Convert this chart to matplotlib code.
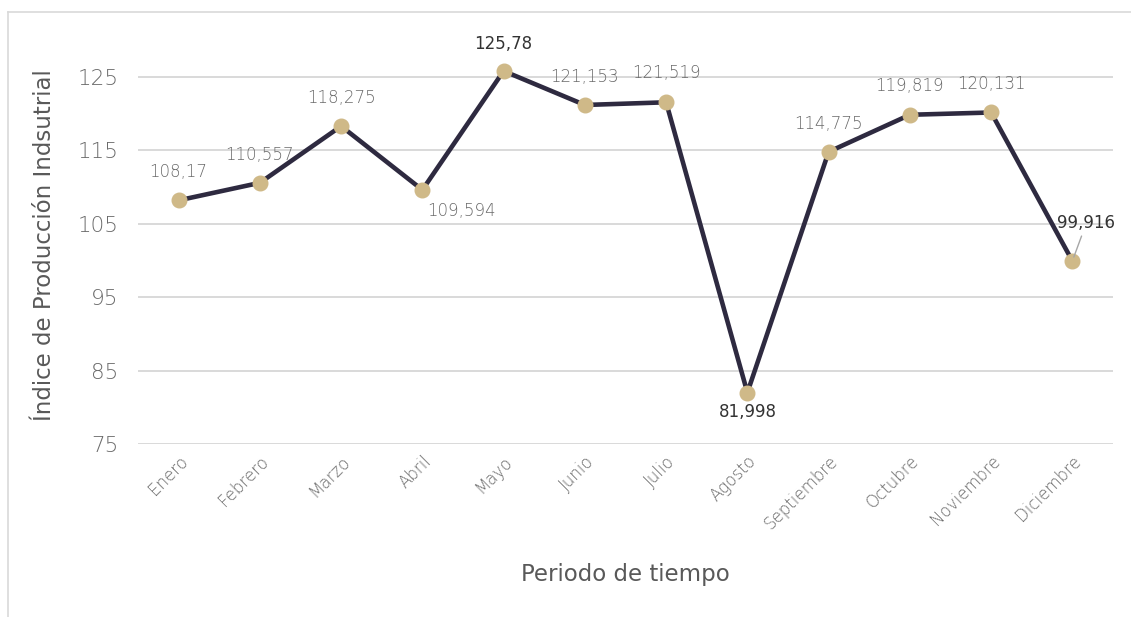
import matplotlib
matplotlib.use("Agg")
import matplotlib.pyplot as plt
from matplotlib.lines import Line2D

meses = ["Enero", "Febrero", "Marzo", "Abril", "Mayo", "Junio", "Julio",
         "Agosto", "Septiembre", "Octubre", "Noviembre", "Diciembre"]
indice = [108.17, 110.557, 118.275, 109.594, 125.78, 121.153, 121.519,
          81.998, 114.775, 119.819, 120.131, 99.916]
etiquetas = ["108,17", "110,557", "118,275", "109,594", "125,78", "121,153",
             "121,519", "81,998", "114,775", "119,819", "120,131", "99,916"]
destacados = {4, 7, 11}
y_ticks = [75, 85, 95, 105, 115, 125]

# label offsets in pixels (dx, dy)
offsets = [(0, 28), (0, 28), (0, 28), (39, -21), (0, 27), (0, 28), (0, 29),
           (0, -19), (0, 28), (0, 29), (0, 28), (14, 38)]

plt.rcParams["font.family"] = ["DejaVu Sans"]
thin = dict(family="DejaVu Sans", weight="light")

fig = plt.figure(figsize=(11.31, 6.17), dpi=100)
# chart frame: top and left edges only
fx0, fy0 = 8 / 1131, 1 - 12 / 617
fig.lines.append(Line2D([fx0, 1.0], [fy0, fy0], transform=fig.transFigure,
                        color="#d9d9d9", linewidth=1.2))
fig.lines.append(Line2D([fx0, fx0], [fy0, 0.0], transform=fig.transFigure,
                        color="#d9d9d9", linewidth=1.2))

ax = fig.add_axes([138 / 1131, 1 - 444 / 617, (1113 - 138) / 1131, (444 - 40) / 617])

x = list(range(len(meses)))
ax.plot(x, indice, color="#2e2a40", linewidth=3.3, zorder=3,
        marker="o", markersize=10.5, markerfacecolor="#cfb988",
        markeredgecolor="#cfb988", solid_joinstyle="miter")

for i, (v, lab) in enumerate(zip(indice, etiquetas)):
    dx, dy = offsets[i]
    bold = i in destacados
    kw = dict(textcoords="offset pixels", ha="center", va="center",
              fontsize=12, color="#333333" if bold else "#6a6a6a",
              family="DejaVu Sans", fontweight="medium" if bold else "light",
              zorder=4)
    if i == 11:
        ax.annotate(lab, (i, v), xytext=(dx, dy),
                    arrowprops=dict(arrowstyle="-", color="#a6a6a6", lw=1.0,
                                    shrinkA=1, shrinkB=3), **kw)
    else:
        ax.annotate(lab, (i, v), xytext=(dx, dy), **kw)

ax.set_xlim(-0.5, 11.5)
ax.set_ylim(75, 130)
ax.set_yticks(y_ticks)
ax.set_yticklabels([str(t) for t in y_ticks], fontsize=15.5, color="#6a6a6a", **thin)
ax.set_xticks(x)
ax.set_xticklabels(meses, rotation=45, ha="right", rotation_mode="anchor",
                   fontsize=12, color="#6a6a6a", **thin)
ax.tick_params(axis="both", length=0)
ax.tick_params(axis="y", pad=14)
ax.tick_params(axis="x", pad=6)
ax.grid(axis="y", color="#d9d9d9", linewidth=1.4)
ax.set_axisbelow(True)
for s in ax.spines.values():
    s.set_visible(False)

fig.text(45 / 1131, 1 - 245 / 617, "Índice de Producción Indsutrial", rotation=90,
         ha="center", va="center", fontsize=16.5, color="#595959")
fig.text(625 / 1131, 1 - 574 / 617, "Periodo de tiempo", ha="center", va="center",
         fontsize=16.5, color="#595959")

fig.savefig("out.png", dpi=100, facecolor="white")
